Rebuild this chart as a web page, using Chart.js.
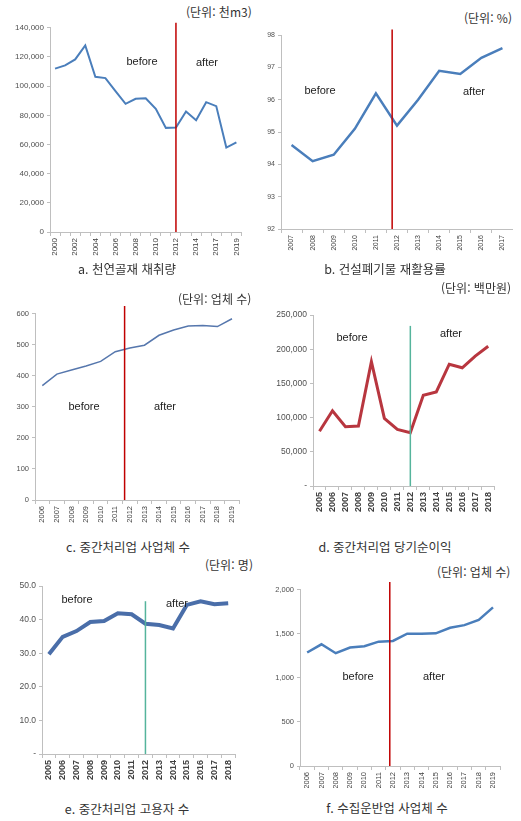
<!DOCTYPE html>
<html lang="ko">
<head>
<meta charset="UTF-8">
<title>건설폐기물 관련 지표</title>
<script src="https://cdn.jsdelivr.net/npm/chart.js"></script>
<style>
  body { margin: 0; background: #fff; font-family: 'Noto Sans CJK KR', 'Liberation Sans', sans-serif; }
  #page { position: relative; width: 521px; height: 821px; overflow: hidden; }
  .box { position: absolute; }
  .unit { position: absolute; font-size: 12px; color: #333; white-space: nowrap; }
  .cap { position: absolute; font-size: 12.5px; color: #333; white-space: nowrap; transform: translateX(-50%); }
  .tag { position: absolute; font-family: 'Liberation Sans', Arial, sans-serif; font-size: 11px; color: #222; white-space: nowrap; transform: translate(-50%, -50%); }
</style>
</head>
<body>
<div id="page"></div>
<script>
  // a. 천연골재 채취량 (천m3) - 2016 is missing in the source
  const yearsA = ['2000','2001','2002','2003','2004','2005','2006','2007','2008','2009','2010','2011','2012','2013','2014','2015','2017','2018','2019'];
  const valuesA = [112000,114200,118300,127900,106400,105500,96600,87900,91300,91700,84400,71400,71600,82600,76600,89000,86300,57900,61500];
  const ticksA = [0,20000,40000,60000,80000,100000,120000,140000];

  // b. 건설폐기물 재활용률 (%)
  const yearsB = ['2007','2008','2009','2010','2011','2012','2013','2014','2015','2016','2017'];
  const valuesB = [94.6,94.1,94.3,95.1,96.2,95.2,96.0,96.9,96.8,97.3,97.6];
  const ticksB = [92,93,94,95,96,97,98];

  // c. 중간처리업 사업체 수
  const yearsC = ['2006','2007','2008','2009','2010','2011','2012','2013','2014','2015','2016','2017','2018','2019'];
  const valuesC = [368,405,418,431,446,477,489,498,530,547,560,561,558,583];
  const ticksC = [0,100,200,300,400,500,600];

  // d. 중간처리업 당기순이익 (백만원)
  const yearsD = ['2005','2006','2007','2008','2009','2010','2011','2012','2013','2014','2015','2016','2017','2018'];
  const valuesD = [80000,110000,86700,87600,182000,99000,82900,78000,132700,137500,178200,172900,190100,204500];
  const ticksD = [0,50000,100000,150000,200000,250000];

  // e. 중간처리업 고용자 수 (명)
  const yearsE = ['2005','2006','2007','2008','2009','2010','2011','2012','2013','2014','2015','2016','2017','2018'];
  const valuesE = [29.7,34.9,36.6,39.3,39.6,41.9,41.6,38.8,38.4,37.4,44.4,45.5,44.6,44.9];
  const ticksE = [0,10,20,30,40,50];

  // f. 수집운반업 사업체 수
  const yearsF = ['2006','2007','2008','2009','2010','2011','2012','2013','2014','2015','2016','2017','2018','2019'];
  const valuesF = [1286,1379,1278,1342,1357,1409,1417,1499,1499,1503,1566,1596,1656,1798];
  const ticksF = [0,500,1000,1500,2000];

  const panels = [
    { labels: yearsA, values: valuesA, ticks: ticksA, every: 2, color: '#4a7ebb', width: 2,
      cut: 12, cutTop: 143500, cutColor: '#c00000', fmt: v => v.toLocaleString('en-US'),
      box: [8, 20, 240, 240], yW: 42, xH: 28, font: 8, yFont: 8, bold: false,
      unit: ['(단위: 천m3)', 186, 3], cap: ['a. 천연골재 채취량', 127, 259],
      tags: [['before', 142, 61], ['after', 207, 62]] },
    { labels: yearsB, values: valuesB, ticks: ticksB, every: 1, color: '#4a7ebb', width: 2.5,
      cut: 4.77, cutTop: 98.18, cutColor: '#c00000', fmt: v => String(v),
      box: [262, 28, 251, 225], yW: 19, xH: 24, font: 7, yFont: 7, bold: false,
      unit: ['(단위: %)', 464, 9], cap: ['b. 건설폐기물 재활용률', 385, 259],
      tags: [['before', 320, 90], ['after', 474, 91]] },
    { labels: yearsC, values: valuesC, ticks: ticksC, every: 1, color: '#5677ad', width: 1.5,
      cut: 5.64, cutTop: 635, cutColor: '#c00000', fmt: v => String(v),
      box: [15, 306, 228, 219], yW: 20, xH: 25, font: 7.5, yFont: 7.5, bold: false,
      unit: ['(단위: 업체 수)', 178, 290], cap: ['c. 중간처리업 사업체 수', 128, 537],
      tags: [['before', 84, 406], ['after', 165, 406]] },
    { labels: yearsD, values: valuesD, ticks: ticksD, every: 1, color: '#b8363f', width: 3,
      cut: 7, cutTop: 234200, cutColor: '#55b49c', fmt: v => v === 0 ? '-' : v.toLocaleString('en-US'),
      box: [274, 307, 227, 211], yW: 39, xH: 32, font: 9, yFont: 8.5, bold: true,
      unit: ['(단위: 백만원)', 441, 279], cap: ['d. 중간처리업 당기순이익', 385, 537],
      tags: [['before', 352, 337], ['after', 451, 333]] },
    { labels: yearsE, values: valuesE, ticks: ticksE, every: 1, color: '#4a6ea9', width: 4,
      cut: 7, cutTop: 45.5, cutColor: '#55b49c', fmt: v => v === 0 ? '-' : v.toFixed(1),
      box: [12, 578, 229, 210], yW: 30, xH: 34, font: 9, yFont: 8.5, bold: true,
      unit: ['(단위: 명)', 205, 556], cap: ['e. 중간처리업 고용자 수', 127, 799],
      tags: [['before', 77, 599], ['after', 177, 603]] },
    { labels: yearsF, values: valuesF, ticks: ticksF, every: 1, color: '#4a7ebb', width: 2.5,
      cut: 5.78, cutTop: 2100, cutColor: '#c00000', fmt: v => v.toLocaleString('en-US'),
      box: [270, 582, 234, 206], yW: 30, xH: 22, font: 7.5, yFont: 7.5, bold: false,
      unit: ['(단위: 업체 수)', 437, 563], cap: ['f. 수집운반업 사업체 수', 387, 798],
      tags: [['before', 358, 676], ['after', 434, 676]] }
  ];

  // vertical policy line (before / after)
  const cutLine = {
    id: 'cutLine',
    afterDatasetsDraw(chart, args, opts) {
      const x = chart.scales.x.getPixelForValue(opts.at);
      const top = chart.scales.y.getPixelForValue(opts.top);
      const ctx = chart.ctx;
      ctx.save();
      ctx.strokeStyle = opts.color;
      ctx.lineWidth = 1.5;
      ctx.beginPath();
      ctx.moveTo(x, top);
      ctx.lineTo(x, chart.chartArea.bottom);
      ctx.stroke();
      ctx.restore();
    }
  };

  const page = document.getElementById('page');

  function addText(cls, text, x, y) {
    const el = document.createElement('div');
    el.className = cls;
    el.textContent = text;
    el.style.left = x + 'px';
    el.style.top = y + 'px';
    page.appendChild(el);
  }

  panels.forEach(p => {
    const box = document.createElement('div');
    box.className = 'box';
    box.style.left = p.box[0] + 'px';
    box.style.top = p.box[1] + 'px';
    box.style.width = p.box[2] + 'px';
    box.style.height = p.box[3] + 'px';
    const canvas = document.createElement('canvas');
    box.appendChild(canvas);
    page.appendChild(box);

    const family = "'Liberation Sans', Arial, sans-serif";

    new Chart(canvas, {
      type: 'line',
      data: {
        labels: p.labels,
        datasets: [{
          data: p.values,
          borderColor: p.color,
          borderWidth: p.width,
          pointRadius: 0,
          tension: 0,
          fill: false
        }]
      },
      options: {
        responsive: true,
        maintainAspectRatio: false,
        animation: false,
        layout: { padding: 0 },
        plugins: {
          legend: { display: false },
          tooltip: { enabled: false },
          cutLine: { at: p.cut, top: p.cutTop, color: p.cutColor }
        },
        scales: {
          x: {
            offset: true,
            grid: { display: true, offset: true, drawOnChartArea: false, drawTicks: true, tickLength: 4, color: '#bfbfbf' },
            border: { display: true, color: '#bfbfbf' },
            ticks: {
              autoSkip: false,
              minRotation: 90,
              maxRotation: 90,
              padding: 2,
              color: '#404040',
              font: { family, size: p.font, weight: p.bold ? 'bold' : 'normal' },
              callback: (v, i) => i % p.every === 0 ? p.labels[i] : ''
            },
            afterFit: axis => { axis.height = p.xH; }
          },
          y: {
            min: p.ticks[0],
            max: p.ticks[p.ticks.length - 1],
            afterBuildTicks: axis => { axis.ticks = p.ticks.map(v => ({ value: v })); },
            grid: { display: true, drawOnChartArea: false, drawTicks: true, tickLength: 3, color: '#bfbfbf' },
            border: { display: true, color: '#bfbfbf' },
            ticks: {
              padding: 3,
              color: '#505050',
              font: { family, size: p.yFont },
              callback: v => p.fmt(v)
            },
            afterFit: axis => { axis.width = p.yW; }
          }
        }
      },
      plugins: [cutLine]
    });

    addText('unit', p.unit[0], p.unit[1], p.unit[2]);
    addText('cap', p.cap[0], p.cap[1], p.cap[2]);
    p.tags.forEach(t => addText('tag', t[0], t[1], t[2]));
  });
</script>
</body>
</html>
